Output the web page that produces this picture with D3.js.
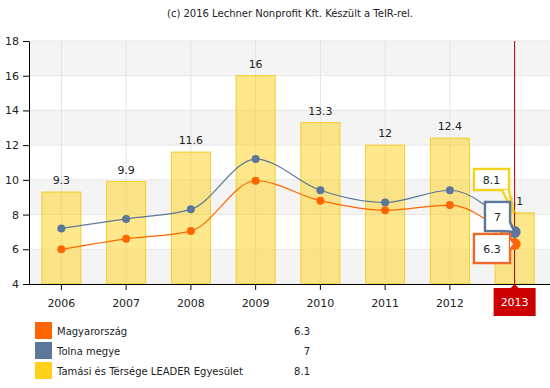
<!DOCTYPE html>
<html lang="hu">
  <head>
    <meta charset="UTF-8" />
    <title>TeIR chart</title>
    <script src="https://d3js.org/d3.v7.min.js"></script>
    <style>
      body { margin: 0; background: #fff; }
      svg text { font-family: "DejaVu Sans", Verdana, sans-serif; fill: #222; }
    </style>
  </head>
  <body>
    <svg width="550" height="388"></svg>
    <script>
      // data
      var years = ["2006", "2007", "2008", "2009", "2010", "2011", "2012", "2013"];
      var magyar = [6.0, 6.6, 7.05, 9.95, 8.8, 8.25, 8.55, 6.3];
      var tolna = [7.2, 7.75, 8.3, 11.2, 9.4, 8.7, 9.4, 7];
      var leader = [9.3, 9.9, 11.6, 16, 13.3, 12, 12.4, 8.1];
      var yTicks = [4, 6, 8, 10, 12, 14, 16, 18];
      var seriesNames = ["Magyarország", "Tolna megye", "Tamási és Térsége LEADER Egyesület"];
      var seriesColors = ["#ff6600", "#5c7799", "#ffd11a"];
      var title = "(c) 2016 Lechner Nonprofit Kft. Készült a TeIR-rel.";
      var hoverIndex = 7;

      var svg = d3.select("svg");
      var plotLeft = 29, plotRight = 547, plotTop = 41, plotBottom = 284;

      var x = d3.scaleBand().domain(years).range([plotLeft, plotRight]);
      var cx = (d) => x(d) + x.bandwidth() / 2;
      var y = d3.scaleLinear().domain([4, 18]).range([plotBottom, plotTop]);

      svg.append("text")
        .attr("x", 290).attr("y", 17)
        .attr("text-anchor", "middle")
        .style("font-size", "10px")
        .text(title);

      // alternating bands
      var bands = yTicks.slice(0, -1).filter((v, i) => i % 2 == 0);
      svg.append("g").selectAll("rect").data(bands).join("rect")
        .attr("x", plotLeft).attr("width", 550 - plotLeft)
        .attr("y", (v) => y(v + 2)).attr("height", (v) => y(v) - y(v + 2))
        .attr("fill", "#f4f4f4");

      // grid
      svg.append("g").selectAll("line").data(yTicks).join("line")
        .attr("x1", plotLeft).attr("x2", 550)
        .attr("y1", (v) => y(v)).attr("y2", (v) => y(v))
        .attr("stroke", "#e6e6e6");
      svg.append("g").selectAll("line").data(years).join("line")
        .attr("x1", cx).attr("x2", cx)
        .attr("y1", plotTop).attr("y2", plotBottom)
        .attr("stroke", "#e2e2e2");

      // bars
      var barW = 40;
      svg.append("g").selectAll("rect").data(leader).join("rect")
        .attr("x", (d, i) => cx(years[i]) - barW / 2 + 0.5)
        .attr("width", barW - 1)
        .attr("y", (d) => y(d))
        .attr("height", (d) => plotBottom - y(d))
        .attr("fill", "rgba(255,209,26,0.5)")
        .attr("stroke", "#f3cd2c");

      svg.append("g").selectAll("text").data(leader).join("text")
        .attr("x", (d, i) => cx(years[i]))
        .attr("y", (d) => y(d) - 8)
        .attr("text-anchor", "middle")
        .style("font-size", "11px")
        .text((d) => d);

      // crosshair
      svg.append("line")
        .attr("x1", cx(years[hoverIndex])).attr("x2", cx(years[hoverIndex]))
        .attr("y1", plotTop).attr("y2", plotBottom)
        .attr("stroke", "#a00000").attr("stroke-width", 1);

      // lines
      var line = d3.line()
        .x((d, i) => cx(years[i]))
        .y((d) => y(d))
        .curve(d3.curveMonotoneX);

      [[tolna, seriesColors[1]], [magyar, seriesColors[0]]].forEach(function (s) {
        svg.append("path")
          .attr("d", line(s[0]))
          .attr("fill", "none")
          .attr("stroke", s[1])
          .attr("stroke-width", 1.2);
        svg.append("g").selectAll("circle").data(s[0]).join("circle")
          .attr("cx", (d, i) => cx(years[i]))
          .attr("cy", (d) => y(d))
          .attr("r", (d, i) => (i == hoverIndex ? 6 : 4))
          .attr("fill", s[1]);
      });

      // axes
      var yAxis = svg.append("g")
        .attr("transform", "translate(" + plotLeft + ",0)")
        .call(d3.axisLeft(y).tickValues(yTicks).tickSize(6).tickPadding(4).tickSizeOuter(0));
      yAxis.selectAll("text").style("font-size", "11px");

      var xAxis = svg.append("g")
        .attr("transform", "translate(0," + plotBottom + ")")
        .call(d3.axisBottom(x).tickSize(6).tickPadding(9).tickSizeOuter(0));
      xAxis.select(".domain").attr("d", "M" + plotLeft + ",0.5H550");
      xAxis.selectAll("text").style("font-size", "11px");

      // highlighted x label
      var hx = cx(years[hoverIndex]);
      svg.append("path")
        .attr("d", "M" + (hx - 21) + ",288H" + (hx - 4) + "L" + hx + ",284L" + (hx + 4) + ",288H" + (hx + 21) + "V316H" + (hx - 21) + "Z")
        .attr("fill", "#cc0000");
      svg.append("text")
        .attr("x", hx).attr("y", 306)
        .attr("text-anchor", "middle")
        .style("font-size", "11px")
        .style("fill", "#fff")
        .text(years[hoverIndex]);

      // tooltips at the hovered year
      var px = hx;
      var tips = [
        { v: leader[hoverIndex], c: "#f5d31d", x0: 474, x1: 509, y0: 169, y1: 190,
          tail: [[509, 190], [px - 1, y(leader[hoverIndex])], [502, 190]] },
        { v: tolna[hoverIndex], c: "#5c7799", x0: 485, x1: 510, y0: 202, y1: 231,
          tail: [[510, 222], [px, y(tolna[hoverIndex])], [501, 231]] },
        { v: magyar[hoverIndex], c: "#f0672a", x0: 474, x1: 510, y0: 234, y1: 263,
          tail: [[510, 238], [px, y(magyar[hoverIndex])], [510, 250]] }
      ];
      tips.forEach(function (t) {
        var g = svg.append("g");
        g.append("rect")
          .attr("x", t.x0).attr("y", t.y0)
          .attr("width", t.x1 - t.x0).attr("height", t.y1 - t.y0)
          .attr("fill", "rgba(255,255,255,0.9)")
          .attr("stroke", t.c).attr("stroke-width", 2.5);
        g.append("path")
          .attr("d", d3.line()(t.tail))
          .attr("fill", "rgba(255,255,255,0.9)")
          .attr("stroke", t.c).attr("stroke-width", 2.5);
        g.append("rect")
          .attr("x", t.x0 + 1.5).attr("y", t.y0 + 1.5)
          .attr("width", t.x1 - t.x0 - 3).attr("height", t.y1 - t.y0 - 3)
          .attr("fill", "#fff").attr("fill-opacity", 0.9);
        g.append("text")
          .attr("x", (t.x0 + t.x1) / 2).attr("y", (t.y0 + t.y1) / 2 + 4)
          .attr("text-anchor", "middle")
          .style("font-size", "11px")
          .text(t.v);
      });

      // legend
      var legend = svg.append("g").selectAll("g").data(seriesNames).join("g")
        .attr("transform", (d, i) => "translate(35," + (322 + i * 20) + ")");
      legend.append("rect")
        .attr("width", 17).attr("height", 17)
        .attr("fill", (d, i) => seriesColors[i]);
      legend.append("text")
        .attr("x", 22).attr("y", 12.5)
        .style("font-size", "10px")
        .text((d) => d);
      var lastVals = [magyar[hoverIndex], tolna[hoverIndex], leader[hoverIndex]];
      legend.append("text")
        .attr("x", 275).attr("y", 12.5)
        .attr("text-anchor", "end")
        .style("font-size", "10px")
        .text((d, i) => lastVals[i]);
    </script>
  </body>
</html>
